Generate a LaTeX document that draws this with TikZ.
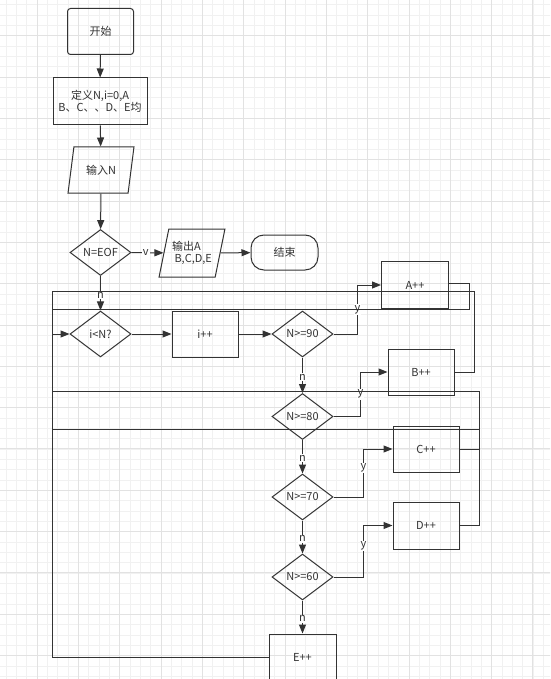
\documentclass[tikz,border=0pt]{standalone}
\usepackage{fontspec}
\setmainfont{Noto Sans CJK SC}
\usetikzlibrary{arrows.meta,shapes.geometric}
\definecolor{GridMinor}{HTML}{F1F1F1}
\definecolor{GridMajor}{HTML}{E2E2E2}
\definecolor{InkDark}{HTML}{333333}
\begin{document}
\begin{tikzpicture}[x=1pt,y=-1pt,line width=1pt,
  every node/.style={font=\fontsize{11}{12.5}\selectfont,text=InkDark},
  box/.style={draw=InkDark,line width=1pt,minimum width=66pt,minimum height=46pt,inner sep=1pt},
  startbox/.style={box,rounded corners=3pt},
  endbox/.style={box,rounded corners=13pt,minimum height=35pt},
  iobox/.style={draw=InkDark,line width=1pt,trapezium,trapezium stretches=true,inner xsep=0pt,inner ysep=1pt,minimum height=46pt},
  test/.style={draw=InkDark,line width=1pt,diamond,aspect=1.33,inner sep=0pt,minimum width=61pt,minimum height=46pt},
  flow/.style={draw=InkDark,-{Triangle[length=9pt,width=7pt]}},
  link/.style={draw=InkDark},
  tag/.style={fill=white,inner sep=1pt}]
  \useasboundingbox (0,0) rectangle (550,679);
  \fill[white] (0,0) rectangle (550,679);
  \begin{scope}
    \clip (0,0) rectangle (550,679);
    \draw[GridMinor,line width=0.6pt,step=10.33pt,shift={(-4.2,-5.6)}] (0,0) grid (560,690);
    \draw[GridMajor,line width=0.6pt,step=41.3pt,shift={(-4.2,-5.6)}] (0,0) grid (560,690);
  \end{scope}

  \node[startbox] (start) at (100.5,31.5) {开始};
  \node[box,minimum width=94pt,minimum height=47pt,align=center] (init) at (100,101.5) {定义N,i=0,A\\B、C、、D、E均};
  \node[iobox,trapezium left angle=75,trapezium right angle=105,minimum width=66pt] (input) at (101,170) {输入N};
  \node[test] (eof) at (100.5,252.5) {N=EOF};
  \node[iobox,trapezium left angle=72,trapezium right angle=108,minimum width=66pt,minimum height=48pt,align=left] (output) at (192,253) {输出A\\\ B,C,D,E};
  \node[endbox,minimum width=67pt] (finish) at (284.5,252.5) {结束};
  \node[test] (loop) at (100.5,334) {i<N?};
  \node[box] (inc) at (205,334) {i++};
  \node[test] (c90) at (302.5,334) {N>=90};
  \node[box,minimum width=67pt,minimum height=47pt] (a) at (415,285) {A++};
  \node[test] (c80) at (302.5,416.5) {N>=80};
  \node[box] (b) at (421,372) {B++};
  \node[test] (c70) at (302.5,497) {N>=70};
  \node[box] (c) at (426,449) {C++};
  \node[test] (c60) at (302.5,577) {N>=60};
  \node[box,minimum height=47pt] (d) at (426,525.5) {D++};
  \node[box,minimum width=67pt,minimum height=47pt] (e) at (302.5,657.5) {E++};

  \coordinate (backtop) at (52,291);
  \coordinate (backa) at (52,309);
  \coordinate (backcd) at (52,391);
  \coordinate (backlow) at (52,429);
  \coordinate (railcd) at (479,391);

  \draw[flow] (start) -- (init);
  \draw[flow] (init) -- (input);
  \draw[flow] (input) -- (eof);
  \draw[flow] (eof) -- (output) node[tag,pos=0.45] {v};
  \draw[flow] (output) -- (finish);
  \draw[flow] (eof) -- (loop) node[tag,pos=0.55] {n};
  \draw[flow] (loop) -- (inc);
  \draw[flow] (inc) -- (c90);
  \draw[flow] (c90.east) -- ++(24,0) |- (a.west) node[tag,pos=0.25] {y};
  \draw[flow] (c90) -- (c80) node[tag,pos=0.55] {n};
  \draw[flow] (c80.east) -- ++(27,0) |- (b.west) node[tag,pos=0.25] {y};
  \draw[flow] (c80) -- (c70) node[tag,pos=0.55] {n};
  \draw[flow] (c70.east) -- ++(30,0) |- (c.west) node[tag,pos=0.3] {y};
  \draw[flow] (c70) -- (c60) node[tag,pos=0.55] {n};
  \draw[flow] (c60.east) -- ++(30,0) |- (d.west) node[tag,pos=0.3] {y};
  \draw[flow] (c60) -- (e) node[tag,pos=0.55] {n};

  \draw[link] (a.east) ++(0,-2) -- ++(20,0) |- (backa);
  \draw[link] (b.east) -- ++(20,0) |- (backtop);
  \draw[link] (c.east) -- (c.east -| railcd);
  \draw[link] (d.east) -| (railcd) -- (backcd);
  \draw[link] (backlow -| railcd) -- (backlow);
  \draw[link] (e.west) -| (backtop);
  \draw[flow] (backtop |- loop) -- (loop);
\end{tikzpicture}
\end{document}
